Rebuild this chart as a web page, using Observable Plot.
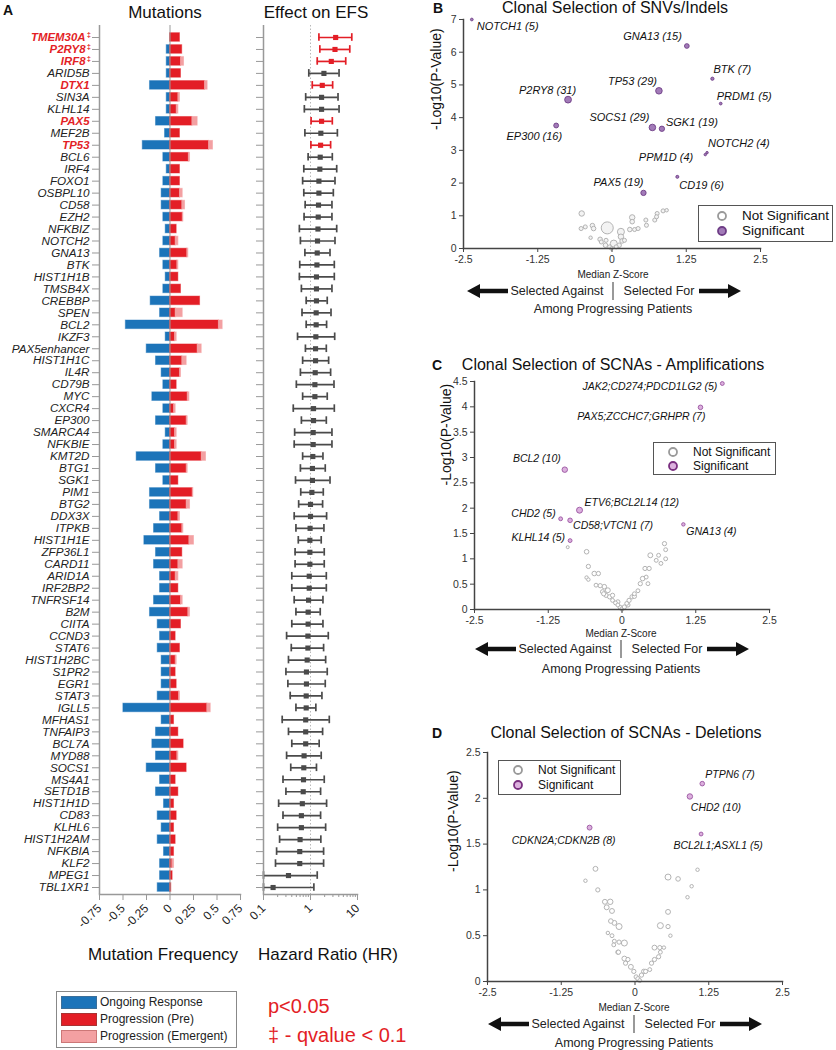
<!DOCTYPE html>
<html><head><meta charset="utf-8">
<script src="https://cdn.jsdelivr.net/npm/d3@7"></script>
<script src="https://cdn.jsdelivr.net/npm/@observablehq/plot@0.6"></script>
<style>
body{margin:0;background:#fff;font-family:"Liberation Sans",Arial,Helvetica,sans-serif;}
#root{position:relative;width:836px;height:1050px;overflow:hidden;background:#fff;}
.t{position:absolute;white-space:nowrap;line-height:1;}
</style></head><body><div id="root"></div>
<script>
// ---------------- DATA ----------------
const genes = ["TMEM30A","P2RY8","IRF8","ARID5B","DTX1","SIN3A","KLHL14","PAX5","MEF2B","TP53","BCL6","IRF4","FOXO1","OSBPL10","CD58","EZH2","NFKBIZ","NOTCH2","GNA13","BTK","HIST1H1B","TMSB4X","CREBBP","SPEN","BCL2","IKZF3","PAX5enhancer","HIST1H1C","IL4R","CD79B","MYC","CXCR4","EP300","SMARCA4","NFKBIE","KMT2D","BTG1","SGK1","PIM1","BTG2","DDX3X","ITPKB","HIST1H1E","ZFP36L1","CARD11","ARID1A","IRF2BP2","TNFRSF14","B2M","CIITA","CCND3","STAT6","HIST1H2BC","S1PR2","EGR1","STAT3","IGLL5","MFHAS1","TNFAIP3","BCL7A","MYD88","SOCS1","MS4A1","SETD1B","HIST1H1D","CD83","KLHL6","HIST1H2AM","NFKBIA","KLF2","MPEG1","TBL1XR1"];
const ongoingFreq = [0,0.035,0.035,0.035,0.213,0.035,0.035,0.149,0.053,0.29, 0.071,0.035,0.071,0.089,0.089,0.071,0.046,0.071,0.106,0.071, 0.046,0.071,0.206,0.106,0.47,0.046,0.248,0.149,0.089,0.071, 0.188,0.071,0.149,0.046,0.071,0.355,0.149,0.071,0.213,0.213, 0.106,0.17,0.273,0.149,0.17,0.106,0.106,0.17,0.213,0.131, 0.106,0.131,0.089,0.089,0.089,0.131,0.496,0.089,0.149,0.188, 0.149,0.248,0.106,0.149,0.064,0.131,0.089,0.131,0.064,0.106, 0.106,0.131];
const preFreq = [0.106,0.13,0.117,0.117,0.372,0.089,0.071,0.238,0.106,0.415, 0.2,0.106,0.106,0.106,0.131,0.135,0.071,0.06,0.184,0.078, 0.089,0.117,0.32,0.06,0.52,0.053,0.294,0.131,0.106,0.071, 0.188,0.043,0.177,0.053,0.053,0.337,0.177,0.089,0.241,0.177, 0.089,0.131,0.206,0.131,0.089,0.06,0.089,0.117,0.195,0.117, 0.06,0.106,0.06,0.06,0.071,0.096,0.397,0.043,0.089,0.145, 0.078,0.177,0.06,0.089,0.043,0.071,0.043,0.06,0.043,0.025, 0.028,0.014];
const emergentFreq = [0,0,0.032,0,0.028,0.017,0.018,0.056,0,0.042, 0.013,0,0,0.029,0.029,0.007,0,0.029,0.011,0.011, 0,0,0,0.075,0.04,0.018,0.043,0.046,0.011,0, 0.018,0.017,0.011,0.018,0.018,0.046,0.011,0,0.007,0.036, 0.017,0.011,0.049,0,0.046,0.029,0,0.018,0.018,0, 0,0,0.011,0,0,0.01,0.036,0,0,0, 0.011,0,0,0,0,0,0,0,0,0.018, 0,0];
const hrEstimate = [3.43,3.32,2.77,1.93,1.78,1.72,1.72,1.72,1.66,1.64, 1.61,1.58,1.51,1.51,1.48,1.46,1.44,1.41,1.39,1.37, 1.34,1.34,1.34,1.32,1.32,1.3,1.28,1.28,1.26,1.24, 1.24,1.16,1.16,1.14,1.14,1.12,1.1,1.1,1.07,1.0, 1.0,0.98,0.97,0.97,0.97,0.94,0.94,0.91,0.89,0.89, 0.88,0.88,0.85,0.82,0.82,0.81,0.81,0.79,0.79,0.79, 0.73,0.72,0.71,0.7,0.67,0.64,0.64,0.6,0.59,0.59, 0.34,0.16];
const hrLower = [1.51,1.58,1.39,0.92,1.09,0.79,0.74,1.03,0.76,1.02, 0.89,0.72,0.68,0.72,0.77,0.73,0.58,0.61,0.76,0.59, 0.58,0.64,0.81,0.66,0.81,0.53,0.78,0.68,0.61,0.5, 0.68,0.43,0.64,0.46,0.45,0.68,0.61,0.48,0.62,0.56, 0.45,0.49,0.55,0.47,0.47,0.4,0.4,0.45,0.49,0.4, 0.31,0.39,0.34,0.3,0.33,0.37,0.49,0.25,0.34,0.4, 0.31,0.38,0.26,0.3,0.21,0.26,0.2,0.22,0.19,0.18, 0.1,0.1];
const hrUpper = [7.56,6.85,5.62,4.05,2.96,3.85,4.05,2.91,3.73,2.68, 2.91,3.61,3.32,3.06,2.86,2.86,3.61,3.32,2.6,3.21, 3.21,2.86,2.27,2.73,2.2,3.27,2.17,2.43,2.68,3.16, 2.27,3.21,2.17,2.86,2.86,1.84,2.06,2.6,1.87,1.81, 2.2,1.93,1.69,1.96,1.96,2.17,2.17,1.84,1.61,1.84, 2.39,1.9,2.1,2.27,2.06,1.75,1.3,2.51,1.81,1.53, 1.69,1.34,1.96,1.64,2.2,1.64,2.1,1.66,1.9,1.9, 1.39,1.18];
const pSignificant = ["TMEM30A","P2RY8","IRF8","DTX1","PAX5","TP53"];
const qSignificant = ["TMEM30A","P2RY8","IRF8"];
const mutTicks = [-0.75,-0.5,-0.25,0,0.25,0.5,0.75];
const hrTicks = [0.1,1,10];
const hrMinorTicks = [0.2,0.3,0.4,0.5,0.6,0.7,0.8,0.9,2,3,4,5,6,7,8,9];

// Panel B: SNVs/Indels
const bSigGene = ["NOTCH1","GNA13","BTK","TP53","PRDM1","P2RY8","SOCS1","SGK1","EP300","NOTCH2","PPM1D","CD19","PAX5"];
const bSigZ = [-2.36,1.26,1.69,0.79,1.83,-0.74,0.68,0.84,-0.94,1.6,1.57,1.1,0.53];
const bSigP = [7.0,6.19,5.19,4.82,4.43,4.55,3.70,3.66,3.76,2.93,2.87,2.19,1.70];
const bSigN = [5,15,7,29,5,31,29,19,16,4,4,6,19];
const bNsZ = [-0.51,-0.52,-0.45,-0.33,-0.31,-0.36,-0.08,-0.2,-0.18,-0.11,-0.04,-0.01,0.03,0.12,0.15,0.15,0.17,0.21,0.3,0.34,0.34,0.38,0.44,0.57,0.58,0.72,0.76,0.75,0.86,0.92,0.07,-0.1];
const bNsP = [1.07,0.61,0.66,0.70,0.61,0.33,0.63,0.28,0.2,0.1,0.05,0.0,0.15,0.1,0.51,0.36,0.23,0.25,0.58,0.95,0.82,0.58,0.61,0.87,0.71,0.87,1.07,0.97,1.15,1.17,0.05,0.25];
const bNsN = [20,11,11,14,14,8,97,14,11,14,11,8,33,14,33,20,14,11,14,20,14,11,11,11,11,11,11,11,11,8,11,11];
const zTicks = [-2.5,-1.25,0,1.25,2.5];
const bPTicks = [0,1,2,3,4,5,6,7];

// Panel C: SCNA amplifications
const cSigGene = ["JAK2;CD274;PDCD1LG2","PAX5;ZCCHC7;GRHPR","BCL2","ETV6;BCL2L14","CHD2","CD58;VTCN1","GNA13","KLHL14"];
const cSigZ = [1.70,1.33,-0.97,-0.72,-1.04,-0.88,1.04,-0.88];
const cSigP = [4.46,3.99,2.76,1.96,1.79,1.76,1.68,1.36];
const cSigN = [5,7,10,12,5,7,4,5];
const cNsZ = [-0.92,-0.6,-0.57,-0.6,-0.57,-0.47,-0.4,-0.44,-0.37,-0.3,-0.24,-0.33,-0.27,-0.21,-0.16,-0.11,-0.07,-0.03,0,0.04,0.08,0.12,0.17,0.21,0.27,0.31,0.35,0.41,0.39,0.46,0.48,0.58,0.62,0.66,0.74,0.72,0.74,0.44,0.1,-0.07,-0.16,-0.31,0.21];
const cNsP = [1.23,1.14,0.85,0.63,0.59,0.71,0.71,0.48,0.47,0.45,0.38,0.35,0.28,0.25,0.18,0.13,0.09,0.04,0.01,0.05,0.12,0.18,0.25,0.31,0.37,0.51,0.61,0.64,0.81,0.81,1.07,0.97,1.07,0.91,1.0,1.3,1.18,0.51,0.09,0.15,0.28,0.31,0.26];
const cNsN = [3,7,6,4,4,7,6,5,6,7,8,6,6,6,5,5,5,6,6,6,5,6,6,5,5,6,7,5,6,6,8,5,5,5,5,6,5,5,6,6,6,6,6];
const cPTicks = [0,0.5,1,1.5,2,2.5,3,3.5,4,4.5];

// Panel D: SCNA deletions
const dSigGene = ["PTPN6","CHD2","CDKN2A;CDKN2B","BCL2L1;ASXL1"];
const dSigZ = [1.14,0.93,-0.77,1.12];
const dSigP = [2.16,2.02,1.68,1.61];
const dSigN = [7,10,8,5];
const dNsZ = [-0.67,-0.84,-0.63,-0.51,-0.42,-0.48,-0.39,-0.41,-0.35,-0.27,-0.46,-0.39,-0.35,-0.36,-0.27,-0.18,-0.29,-0.28,-0.18,-0.12,-0.16,-0.07,-0.02,0.02,0.05,0.08,0.11,0.15,0.18,0.25,0.28,0.33,0.4,0.43,0.33,0.42,0.49,0.43,0.56,0.6,0.56,0.56,0.73,1.06,0.96,0.89];
const dNsP = [1.23,1.1,1.0,0.87,0.87,0.81,0.77,0.66,0.64,0.6,0.53,0.5,0.44,0.4,0.43,0.42,0.32,0.32,0.25,0.24,0.2,0.16,0.11,0.05,0.03,0.01,0.07,0.11,0.11,0.13,0.2,0.24,0.27,0.32,0.37,0.37,0.37,0.61,0.6,0.5,0.76,1.14,1.12,1.22,1.04,0.92];
const dNsN = [8,4,6,8,10,8,8,7,8,12,4,5,5,5,6,12,6,6,8,6,6,8,6,6,6,5,6,7,6,5,6,6,6,5,8,6,4,12,6,4,8,12,7,4,4,4];
const dPTicks = [0,0.5,1,1.5,2,2.5];

// ---------------- STYLE ----------------
const FONT = '"Liberation Sans", Arial, Helvetica, sans-serif';
const BLUE = "#1c74b9", RED = "#e31e26", PINK = "#f3a0a2", FOREST_GREY = "#4a4a4a";
const AXIS_GREY = "#999";
const PUR_B = "#a27bb8", PUR_B_STROKE = "#6e3d86";
const PUR_C = "#dcb0de", PUR_C_STROKE = "#9a55a0";
const NS_STROKE = "#b3b3b3";

// label nudges (styling only)
const nudgeB = {NOTCH1:["start",5,7],GNA13:["end",-5,-10],BTK:["start",1,-9],TP53:["end",-2,-9],PRDM1:["start",-4,-7],P2RY8:["end",8,-9],SOCS1:["end",-3,-10],SGK1:["start",4,-6],EP300:["end",6,11],NOTCH2:["start",1,-9],PPM1D:["end",-12,3],CD19:["start",2,9],PAX5:["end",0,-10]};
const nudgeC = {"JAK2;CD274;PDCD1LG2":["end",-5,3],"PAX5;ZCCHC7;GRHPR":["end",5,9],BCL2:["end",-4,-11],"ETV6;BCL2L14":["start",5,-8],CHD2:["end",-5,-5],"CD58;VTCN1":["start",3,5],GNA13:["start",3,7],KLHL14:["end",-5,-3]};
const nudgeD = {PTPN6:["start",3,-9],CHD2:["start",1,11],"CDKN2A;CDKN2B":["end",26,13],"BCL2L1;ASXL1":["middle",17,12]};

const root = document.getElementById("root");
function place(node, left, top){
  const w = document.createElement("div");
  w.style.cssText = `position:absolute;left:${left}px;top:${top}px;`;
  w.appendChild(node); root.appendChild(w);
}
function txt(s, x, y, o={}){
  const d = document.createElement("div");
  d.className = "t";
  d.textContent = s;
  const anchor = o.anchor || "middle";
  const tx = anchor==="middle" ? "-50%" : anchor==="end" ? "-100%" : "0";
  d.style.cssText += `left:${x}px;top:${y}px;transform:translate(${tx},-50%);font-size:${o.size||12}px;font-weight:${o.weight||"normal"};font-style:${o.style||"normal"};color:${o.color||"#111"};font-family:${FONT};`;
  root.appendChild(d);
}
const baseStyle = {background:"transparent", overflow:"visible", fontFamily: FONT, fontSize:"11px", color:"#222"};

// ---------------- PANEL A ----------------
const mutRows = genes.map((g,i)=>({gene:g, ongoing:ongoingFreq[i], pre:preFreq[i], emergent:emergentFreq[i]}));
const hrRows = genes.map((g,i)=>({gene:g, hr:hrEstimate[i], lo:hrLower[i], hi:hrUpper[i], sig:pSignificant.includes(g)}));
const yBand = {domain: genes, range:[31, 893], paddingInner:0.28, paddingOuter:0.14};

const plotMut = Plot.plot({
  width:250, height:940, marginLeft:99, marginRight:10, marginTop:25, marginBottom:46,
  style: baseStyle,
  x:{domain:[-0.75,0.75]},
  y: yBand,
  marks:[
    Plot.barX(mutRows, {y:"gene", x1:0, x2:d=>-d.ongoing, fill:BLUE, stroke:BLUE, strokeOpacity:0.45, strokeWidth:1}),
    Plot.barX(mutRows, {y:"gene", x1:0, x2:"pre", fill:RED, stroke:RED, strokeOpacity:0.45, strokeWidth:1}),
    Plot.barX(mutRows.filter(d=>d.emergent>0), {y:"gene", x1:"pre", x2:d=>d.pre+d.emergent, fill:PINK, stroke:PINK, strokeOpacity:0.6, strokeWidth:1}),
    Plot.ruleX([0], {stroke:AXIS_GREY, strokeWidth:1}),
    Plot.ruleX([-0.75], {stroke:AXIS_GREY, strokeWidth:1.5}),
    Plot.frame({anchor:"bottom", stroke:AXIS_GREY, strokeWidth:1.5}),
    Plot.axisY({tickSize:7, tickFormat:()=>"", stroke:AXIS_GREY, label:null}),
    Plot.text(genes.filter(g=>!pSignificant.includes(g)), {y:d=>d, text:d=>d, frameAnchor:"left", dx:-10, textAnchor:"end", fontStyle:"italic", fontSize:11.7, fill:"#222"}),
    Plot.text(pSignificant.filter(g=>!qSignificant.includes(g)), {y:d=>d, text:d=>d, frameAnchor:"left", dx:-10, textAnchor:"end", fontStyle:"italic", fontWeight:"bold", fontSize:11.4, fill:RED}),
    Plot.text(qSignificant, {y:d=>d, text:d=>d, frameAnchor:"left", dx:-14, textAnchor:"end", fontStyle:"italic", fontWeight:"bold", fontSize:11.4, fill:RED}),
    Plot.text(qSignificant, {y:d=>d, text:()=>"‡", frameAnchor:"left", dx:-8.5, dy:-3, textAnchor:"end", fontSize:7.5, fontWeight:"bold", fill:RED}),
    Plot.axisX({ticks:mutTicks, tickSize:6, tickRotate:-45, tickFormat:d=>String(d), fontSize:12, stroke:AXIS_GREY, fill:"#222", label:null})
  ]
});
place(plotMut, 0, 0);

const plotHR = Plot.plot({
  width:120, height:940, marginLeft:13, marginRight:13, marginTop:25, marginBottom:46,
  style: baseStyle,
  x:{type:"log", domain:[0.1,10]},
  y: yBand,
  color:{type:"identity"},
  marks:[
    Plot.ruleX([1], {stroke:"#b8b8b8", strokeDasharray:"1.5,2", strokeWidth:1}),
    Plot.ruleY(hrRows, {y:"gene", x1:"lo", x2:"hi", stroke:d=>d.sig?RED:FOREST_GREY, strokeWidth:1.7}),
    Plot.tickX(hrRows, {y:"gene", x:"lo", stroke:d=>d.sig?RED:FOREST_GREY, strokeWidth:1.7, insetTop:0.5, insetBottom:0.5}),
    Plot.tickX(hrRows, {y:"gene", x:"hi", stroke:d=>d.sig?RED:FOREST_GREY, strokeWidth:1.7, insetTop:0.5, insetBottom:0.5}),
    Plot.dot(hrRows, {y:"gene", x:"hr", symbol:"square", r:2.9, fill:d=>d.sig?RED:FOREST_GREY, stroke:"none"}),
    Plot.ruleX([0.1], {stroke:AXIS_GREY, strokeWidth:1.5}),
    Plot.frame({anchor:"bottom", stroke:AXIS_GREY, strokeWidth:1.5}),
    Plot.axisY({tickSize:7, tickFormat:()=>"", stroke:AXIS_GREY, label:null}),
    Plot.axisX({ticks:hrTicks, tickSize:6, tickRotate:-45, tickFormat:d=>String(d), fontSize:12, stroke:AXIS_GREY, fill:"#222", label:null}),
    Plot.axisX({ticks:hrMinorTicks, tickSize:3, tickFormat:()=>"", stroke:AXIS_GREY, label:null})
  ]
});
place(plotHR, 250, 0);

txt("A", 3, 10, {size:14, weight:"bold", anchor:"start"});
txt("Mutations", 165, 12, {size:17});
txt("Effect on EFS", 316, 12, {size:17});
txt("Mutation Frequency", 163, 954, {size:17});
txt("Hazard Ratio (HR)", 328, 954, {size:17});

// Legend A
(function(){
  const box = document.createElement("div");
  box.style.cssText = "position:absolute;left:56px;top:991px;width:179px;height:55px;border:1px solid #888;background:#fff;";
  root.appendChild(box);
  const items = [["Ongoing Response",BLUE,"#3b6f9a"],["Progression (Pre)",RED,"#a33"],["Progression (Emergent)",PINK,"#c77"]];
  items.forEach((it,i)=>{
    const sw = document.createElement("div");
    sw.style.cssText = `position:absolute;left:61px;top:${996+i*17}px;width:34px;height:11px;background:${it[1]};border:1px solid ${it[2]};`;
    root.appendChild(sw);
    txt(it[0], 100, 1002+i*17, {size:12, anchor:"start", color:"#222"});
  });
})();
txt("p<0.05", 268, 1006, {size:20, anchor:"start", color:RED});
txt("‡ - qvalue < 0.1", 268, 1035, {size:20, anchor:"start", color:RED});

// ---------------- VOLCANO PANELS ----------------
function volcano({sigGene, sigZ, sigP, sigN, nsZ, nsP, nsN, pTicks, yMax, rMaxN, rMax, nudge, dims, sigFill, sigStroke, nsFill, labelSize, yLabelDx, yLabelDy}){
  const sig = sigGene.map((g,i)=>({gene:g, z:sigZ[i], p:sigP[i], n:sigN[i]}));
  const ns = nsZ.map((z,i)=>({z, p:nsP[i], n:nsN[i]}));
  return Plot.plot({
    width:dims.width, height:dims.height, marginLeft:dims.ml, marginRight:dims.mr, marginTop:dims.mt, marginBottom:dims.mb,
    style: baseStyle,
    x:{domain:[-2.5,2.5]}, y:{domain:[0,yMax]},
    r:{domain:[0,rMaxN], range:[0,rMax]},
    marks:[
      Plot.dot(ns, {x:"z", y:"p", r:"n", stroke:NS_STROKE, fill:nsFill, strokeWidth:1}),
      Plot.dot(sig, {x:"z", y:"p", r:"n", fill:sigFill, stroke:sigStroke, strokeWidth:0.9}),
      ...sig.map(d=>Plot.text([d], {x:"z", y:"p", text:s=>`${s.gene} (${s.n})`, textAnchor:nudge[d.gene][0], dx:nudge[d.gene][1], dy:nudge[d.gene][2], fontStyle:"italic", fontSize:labelSize, fill:"#111"})),
      Plot.frame({anchor:"left", stroke:"#444", strokeWidth:1.5}),
      Plot.frame({anchor:"bottom", stroke:"#444", strokeWidth:1.5}),
      Plot.axisX({ticks:zTicks, tickSize:4, tickPadding:3, tickFormat:d=>String(d), fontSize:10.5, stroke:"#444", fill:"#333", label:null}),
      Plot.axisY({ticks:pTicks, tickSize:4, tickPadding:3, tickFormat:d=>String(d), fontSize:10.5, stroke:"#444", fill:"#333", label:null}),
      Plot.text(["-Log10(P-Value)"], {frameAnchor:"left", rotate:-90, dx:yLabelDx, dy:yLabelDy, fontSize:14, fill:"#111"})
    ]
  });
}

function arrowRow(cx, yArrow, yMedian, yAmong){
  txt("Median Z-Score", cx, yMedian, {size:10, color:"#222"});
  const s = `<svg width="300" height="24" style="position:absolute;left:${cx-150}px;top:${yArrow-12}px;overflow:visible">
    <polygon points="4,12 17,5 17,9.7 45,9.7 45,14.3 17,14.3 17,19" fill="#111"/>
    <polygon points="236,9.7 265,9.7 265,5 278,12 265,19 265,14.3 236,14.3" fill="#111"/>
    <line x1="150" y1="3" x2="150" y2="21" stroke="#555" stroke-width="1.2"/></svg>`;
  const d = document.createElement("div"); d.innerHTML = s; root.appendChild(d.firstChild);
  txt("Selected Against", cx-56, yArrow, {size:12.5, color:"#222"});
  txt("Selected For", cx+46, yArrow, {size:12.5, color:"#222"});
  txt("Among Progressing Patients", cx, yAmong, {size:12.5, color:"#222"});
}

function legendBox(left, top, w, h, cx, y1, y2, size, sigFill, sigStroke){
  const box = document.createElement("div");
  box.style.cssText = `position:absolute;left:${left}px;top:${top}px;width:${w}px;height:${h}px;border:1.5px solid #555;background:#fff;box-sizing:border-box;`;
  root.appendChild(box);
  const s = `<svg width="20" height="${y2-y1+20}" style="position:absolute;left:${cx-10}px;top:${y1-10}px;overflow:visible">
    <circle cx="10" cy="10" r="4" fill="#fff" stroke="#9a9a9a" stroke-width="1.8"/>
    <circle cx="10" cy="${y2-y1+10}" r="4" fill="${sigFill}" stroke="${sigStroke}" stroke-width="1.8"/></svg>`;
  const d = document.createElement("div"); d.innerHTML = s; root.appendChild(d.firstChild);
  txt("Not Significant", cx+20, y1, {size, anchor:"start", color:"#111"});
  txt("Significant", cx+20, y2, {size, anchor:"start", color:"#111"});
}

// B
place(volcano({sigGene:bSigGene, sigZ:bSigZ, sigP:bSigP, sigN:bSigN, nsZ:bNsZ, nsP:bNsP, nsN:bNsN, pTicks:bPTicks, yMax:7, rMaxN:31, rMax:3.4, nudge:nudgeB,
  dims:{width:416,height:275,ml:43,mr:76,mt:19,mb:27}, sigFill:PUR_B, sigStroke:PUR_B_STROKE, nsFill:"#f3f3f3", labelSize:11, yLabelDx:-27, yLabelDy:-4}), 420, 0);
txt("B", 433, 8, {size:14, weight:"bold", anchor:"start"});
txt("Clonal Selection of SNVs/Indels", 615, 8, {size:16});
arrowRow(613, 291, 275, 309);
legendBox(698, 205, 135, 37, 722, 216, 231, 13.5, PUR_B, PUR_B_STROKE);

// C
place(volcano({sigGene:cSigGene, sigZ:cSigZ, sigP:cSigP, sigN:cSigN, nsZ:cNsZ, nsP:cNsP, nsN:cNsN, pTicks:cPTicks, yMax:4.5, rMaxN:12, rMax:3, nudge:nudgeC,
  dims:{width:416,height:260,ml:54,mr:67,mt:11,mb:21}, sigFill:PUR_C, sigStroke:PUR_C_STROKE, nsFill:"#fff", labelSize:10.5, yLabelDx:-28, yLabelDy:-10}), 420, 370);
txt("C", 432, 365, {size:14, weight:"bold", anchor:"start"});
txt("Clonal Selection of SCNAs - Amplifications", 613, 365, {size:16});
arrowRow(621, 649, 634, 669);
legendBox(653, 442, 123, 33, 673, 452, 466, 12, PUR_C, "#7a2f80");

// D
place(volcano({sigGene:dSigGene, sigZ:dSigZ, sigP:dSigP, sigN:dSigN, nsZ:dNsZ, nsP:dNsP, nsN:dNsN, pTicks:dPTicks, yMax:2.5, rMaxN:12, rMax:3, nudge:nudgeD,
  dims:{width:416,height:265,ml:67,mr:54,mt:12,mb:24}, sigFill:PUR_C, sigStroke:PUR_C_STROKE, nsFill:"#fff", labelSize:10.5, yLabelDx:-34, yLabelDy:5}), 420, 740);
txt("D", 432, 733, {size:14, weight:"bold", anchor:"start"});
txt("Clonal Selection of SCNAs - Deletions", 626, 733, {size:16});
arrowRow(634, 1024, 1008, 1043);
legendBox(498, 760, 123, 35, 518, 770, 785, 12, PUR_C, "#7a2f80");
</script></body></html>
